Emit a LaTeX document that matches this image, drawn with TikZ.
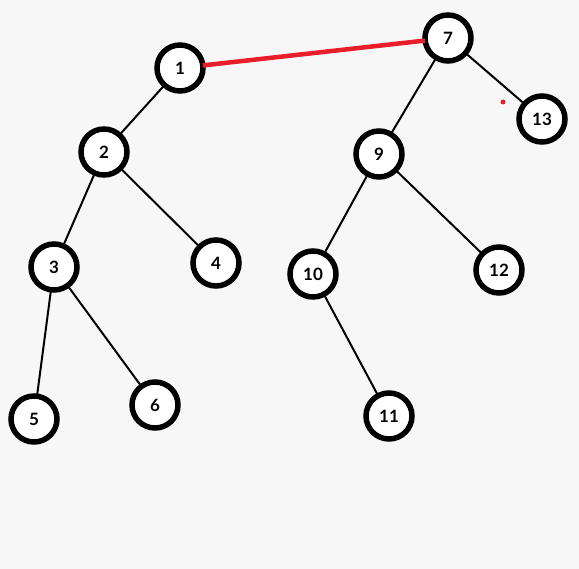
\documentclass[tikz,border=0pt]{standalone}
\usepackage{fontspec}
\setmainfont{Lato}
\usepackage{tikz}
\usetikzlibrary{positioning}
\definecolor{bgcolor}{RGB}{247,247,247}
\definecolor{linkcolor}{RGB}{232,30,40}

\begin{document}
\begin{tikzpicture}[
  x=1pt,y=-1pt,
  every node/.style={circle,draw,line width=5.5pt,fill=white,minimum size=46pt,
    inner sep=0pt,outer sep=0pt,font=\bfseries\fontsize{17}{17}\selectfont},
  edge/.style={line width=2pt}
]
  \fill[bgcolor] (0,0) rectangle (579,569);
  \node (n1)  at (180,68)  {1};
  \node (n2)  at (104,152) {2};
  \node (n3)  at (54,267)  {3};
  \node (n4)  at (216,263) {4};
  \node (n5)  at (34,419)  {5};
  \node (n6)  at (155,405) {6};
  \node (n7)  at (448,38)  {7};
  \node (n9)  at (379,154) {9};
  \node (n10) at (313,274) {10};
  \node (n11) at (389,416) {11};
  \node (n12) at (499,270) {12};
  \node (n13) at (542,119) {13};
  % first tree
  \draw[edge] (n1) -- (n2) -- (n3) -- (n5);
  \draw[edge] (n2) -- (n4);
  \draw[edge] (n3) -- (n6);
  % second tree
  \draw[edge] (n7) -- (n9) -- (n10) -- (n11);
  \draw[edge] (n7) -- (n13);
  \draw[edge] (n9) -- (n12);
  % link between the roots
  \draw[linkcolor,line width=4.5pt] (n1) -- (n7);
  \fill[linkcolor] (503,102) circle (2.5);
\end{tikzpicture}
\end{document}
